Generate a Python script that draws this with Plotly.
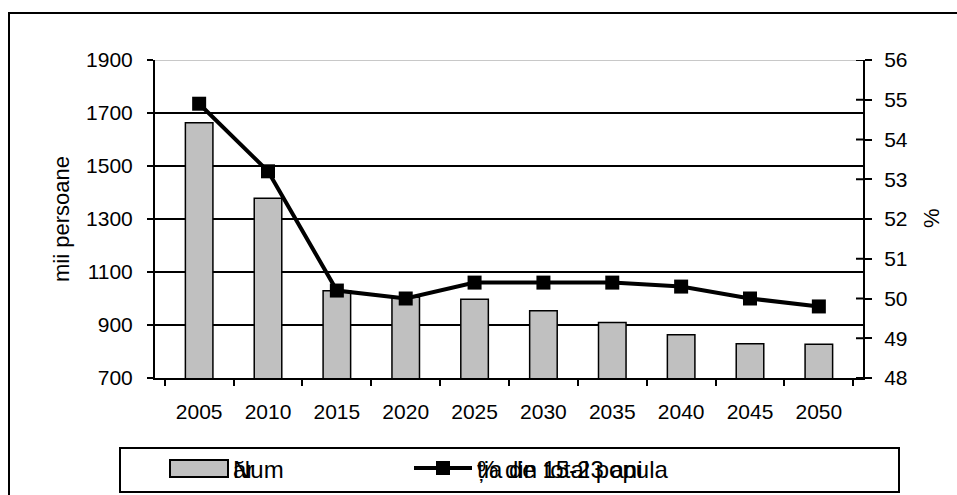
import plotly.graph_objects as go

years = ["2005", "2010", "2015", "2020", "2025", "2030", "2035", "2040", "2045", "2050"]
numar = [1663, 1378, 1029, 1005, 997, 954, 909, 863, 829, 827]
procent = [54.9, 53.2, 50.2, 50.0, 50.4, 50.4, 50.4, 50.3, 50.0, 49.8]
y1_ticks = [700, 900, 1100, 1300, 1500, 1700, 1900]
y2_ticks = [48, 49, 50, 51, 52, 53, 54, 55, 56]
legend_bar_lines = ["Num", "ăr"]
legend_line_lines = ["% din total popula", "ția de 15-23 ani"]

W, H = 957, 495
L, R, T, B = 155, 94, 60, 117
PW, PH = W - L - R, H - T - B
FONT = "Liberation Sans, Arial, sans-serif"


def xp(px):
    return (px - L) / PW


def yp(py):
    return (T + PH - py) / PH


fig = go.Figure()
fig.add_trace(go.Bar(
    x=years, y=numar, width=0.4, name="Număr",
    marker=dict(color="#c0c0c0", line=dict(color="black", width=1.5)),
))
fig.add_trace(go.Scatter(
    x=years, y=procent, yaxis="y2", mode="lines+markers", name="% din total populație",
    line=dict(color="black", width=4),
    marker=dict(symbol="square", size=14, color="black"),
))

shapes = []
shapes.append(dict(type="rect", xref="paper", yref="paper",
                   x0=xp(9), x1=xp(975), y0=yp(13), y1=yp(520),
                   line=dict(color="black", width=2), layer="below"))
shapes.append(dict(type="line", xref="paper", yref="y", x0=0, x1=1,
                   y0=y1_ticks[-1], y1=y1_ticks[-1],
                   line=dict(color="#c8c8c8", width=2), layer="above"))
for v in y2_ticks:
    shapes.append(dict(type="line", xref="paper", yref="y2", x0=1 - 7 / PW, x1=1,
                       y0=v, y1=v, line=dict(color="black", width=2)))
shapes.append(dict(type="rect", xref="paper", yref="paper",
                   x0=xp(120), x1=xp(899), y0=yp(448), y1=yp(492),
                   line=dict(color="black", width=2), fillcolor="white"))
shapes.append(dict(type="rect", xref="paper", yref="paper",
                   x0=xp(170), x1=xp(228), y0=yp(460), y1=yp(477),
                   line=dict(color="black", width=2), fillcolor="#c0c0c0"))
shapes.append(dict(type="line", xref="paper", yref="paper",
                   x0=xp(414), x1=xp(472), y0=yp(468), y1=yp(468),
                   line=dict(color="black", width=4)))
shapes.append(dict(type="rect", xref="paper", yref="paper",
                   x0=xp(436), x1=xp(450), y0=yp(461), y1=yp(475),
                   line=dict(color="black", width=0), fillcolor="black"))

ann = []
ann.append(dict(text="mii persoane", xref="paper", yref="paper", x=xp(61), y=0.5,
                textangle=-90, showarrow=False, font=dict(size=22, family=FONT, color="black"),
                xanchor="center", yanchor="middle"))
ann.append(dict(text="%", xref="paper", yref="paper", x=xp(931), y=yp(218),
                textangle=-90, showarrow=False, font=dict(size=22, family=FONT, color="black"),
                xanchor="center", yanchor="middle"))
for t in legend_bar_lines:
    ann.append(dict(text=t, xref="paper", yref="paper", x=xp(231), y=yp(469),
                    showarrow=False, font=dict(size=24, family=FONT, color="black"),
                    xanchor="left", yanchor="middle"))
for t in legend_line_lines:
    ann.append(dict(text=t, xref="paper", yref="paper", x=xp(475), y=yp(469),
                    showarrow=False, font=dict(size=24, family=FONT, color="black"),
                    xanchor="left", yanchor="middle"))

fig.update_layout(
    width=W, height=H,
    margin=dict(l=L, r=R, t=T, b=B, pad=0),
    paper_bgcolor="white", plot_bgcolor="white",
    showlegend=False,
    font=dict(family=FONT, size=21, color="black"),
    xaxis=dict(type="category", showline=True, linecolor="black", linewidth=2,
               ticks="outside", ticklen=6, tickwidth=2, tickcolor="black",
               tickson="boundaries", showgrid=False, ticklabelstandoff=14,
               tickfont=dict(size=21)),
    yaxis=dict(range=[700, 1900], tickvals=y1_ticks, showline=True, linecolor="black",
               linewidth=2, ticks="outside", ticklen=6, tickwidth=2, tickcolor="black",
               showgrid=True, gridcolor="black", gridwidth=1.5, zeroline=False,
               ticklabelstandoff=10, tickfont=dict(size=21)),
    yaxis2=dict(range=[48, 56], tickvals=y2_ticks, overlaying="y", side="right",
                showline=True, linecolor="black", linewidth=2, ticks="outside",
                ticklen=7, tickwidth=2, tickcolor="black", showgrid=False, zeroline=False,
                ticklabelstandoff=8, tickfont=dict(size=21)),
    shapes=shapes, annotations=ann,
)

fig.write_html("out.html", config={"displayModeBar": False},
               post_script="document.body.style.margin='0';document.body.style.padding='0';")
